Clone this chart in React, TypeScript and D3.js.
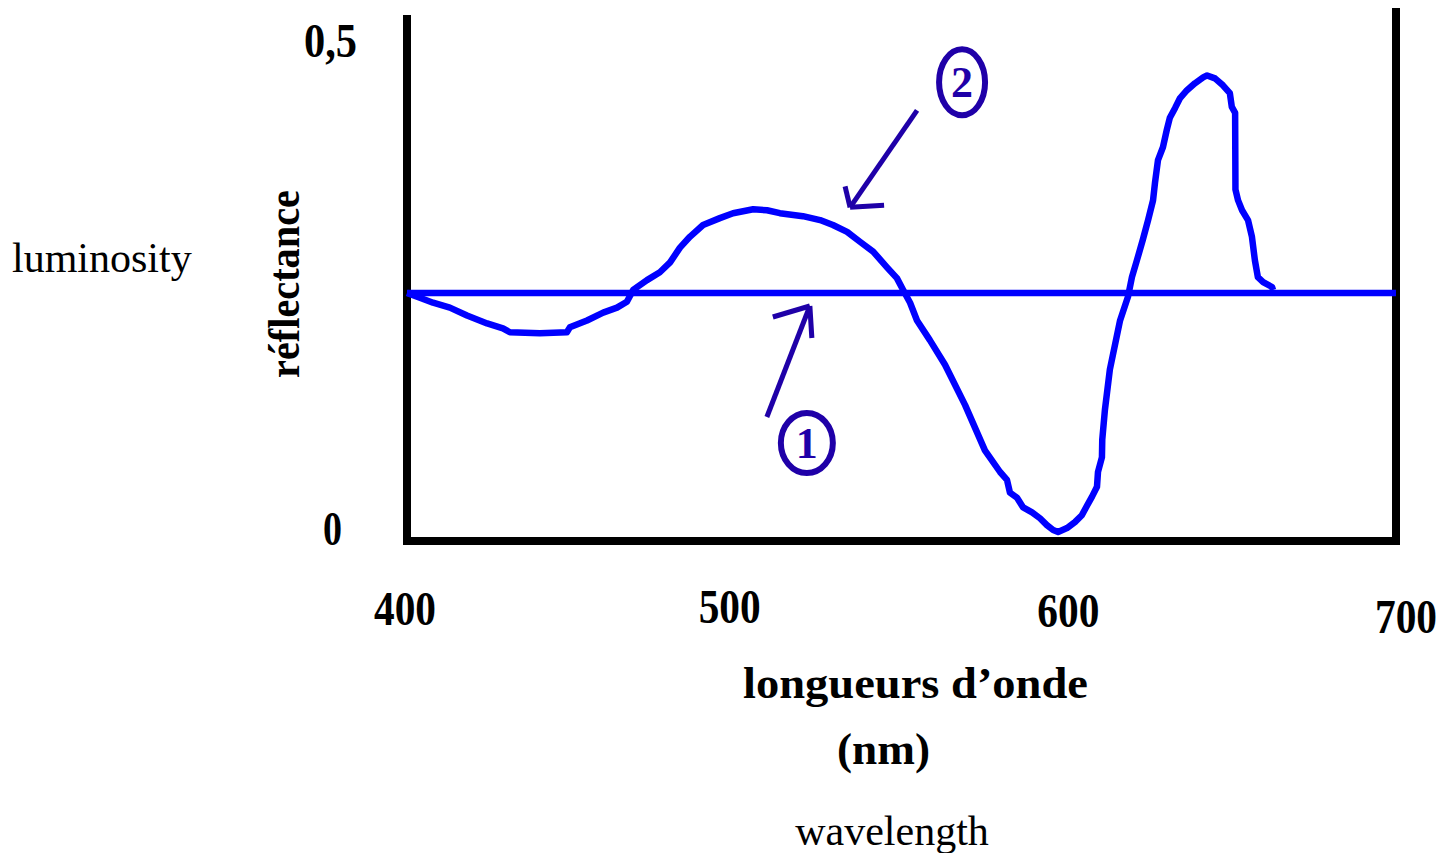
import React from "react";
import * as d3 from "d3";

// Curve 1: flat reflectance line
const flatWavelengths: number[] = [400, 700];
const flatValues: number[] = [0.244, 0.244];

// Curve 2: reflectance spectrum
const curveWavelengths: number[] = [
  400, 403.9, 407.9, 413.0, 418.2, 424.3, 429.1, 431.2, 440.3, 448.5, 449.4, 454.6, 459.5, 463.7,
  466.7, 468.6, 472.8, 476.7, 479.8, 482.8, 485.8, 489.8, 494.9, 498.9, 505.0, 509.2, 513.1,
  520.1, 525.3, 529.2, 533.5, 537.4, 541.4, 545.6, 548.6, 550.5, 552.6, 554.7, 558.6, 563.2,
  569.3, 575.3, 579.9, 582.0, 582.9, 585.0, 586.9, 589.6, 592.0, 594.1, 596.0, 597.5, 600.2,
  602.6, 604.7, 606.3, 607.8, 609.3, 609.6, 610.8, 610.9, 611.7, 613.2, 616.3, 618.7, 619.9,
  621.4, 623.2, 624.8, 626.3, 626.9, 627.8, 629.3, 630.5, 631.4, 633.0, 634.5, 636.6, 639.0,
  641.5, 642.7, 645.1, 647.5, 649.6, 650.2, 651.2, 651.3, 652.1, 653.3, 655.1, 656.3, 657.2,
  658.1, 659.7, 662.4, 662.7,
];
const curveValues: number[] = [
  0.244, 0.239, 0.234, 0.229, 0.221, 0.213, 0.208, 0.204, 0.203, 0.204, 0.209, 0.216, 0.224, 0.229,
  0.235, 0.247, 0.257, 0.265, 0.275, 0.29, 0.301, 0.313, 0.32, 0.325, 0.329, 0.328, 0.325,
  0.322, 0.318, 0.313, 0.306, 0.296, 0.286, 0.27, 0.259, 0.247, 0.234, 0.216, 0.196, 0.171,
  0.13, 0.084, 0.062, 0.054, 0.041, 0.036, 0.026, 0.021, 0.015, 0.008, 0.003, 0.001, 0.005,
  0.011, 0.018, 0.028, 0.037, 0.047, 0.062, 0.077, 0.095, 0.125, 0.166, 0.216, 0.24, 0.26,
  0.277, 0.298, 0.318, 0.338, 0.356, 0.379, 0.392, 0.41, 0.422, 0.432, 0.442, 0.45, 0.457,
  0.463, 0.465, 0.462, 0.455, 0.447, 0.433, 0.427, 0.349, 0.338, 0.328, 0.318, 0.301, 0.277,
  0.26, 0.255, 0.25, 0.247,
];

const xTickValues: number[] = [400, 500, 600, 700];
const xTickLabels: string[] = ["400", "500", "600", "700"];
const yTickValues: number[] = [0, 0.5];
const yTickLabels: string[] = ["0", "0,5"];

// Annotation anchors (wavelength, reflectance)
const annotationLabels: string[] = ["1", "2"];
const annotationWavelengths: number[] = [522.2, 534.4];
const annotationValues: number[] = [0.2307, 0.331];

const W = 1447;
const H = 853;

export default function App() {
  const x = d3.scaleLinear().domain([400, 700]).range([407, 1396]);
  const y = d3.scaleLinear().domain([0, 0.5]).range([533, 41]);

  const line = d3
    .line<[number, number]>()
    .x((d) => x(d[0]))
    .y((d) => y(d[1]))
    .curve(d3.curveLinear);

  const flatData: [number, number][] = flatWavelengths.map((w, i) => [w, flatValues[i]]);
  const curveData: [number, number][] = curveWavelengths.map((w, i) => [w, curveValues[i]]);

  const blue = "#0000ff";
  const annot = "#1f00a8";
  const boldFont = "'Liberation Serif', 'Times New Roman', serif";

  const frameTop = 15;
  const frameBottom = 541;
  const left = x(400);
  const right = x(700);

  const xNudge = [-2, -7, 2, 10];
  const xBase = [625, 623, 627, 633];

  // annotation geometry in pixel offsets from anchors
  const ann = [
    { tail: [-43, 111], b1: [-37, 11], b2: [2, 32], c: [-3, 137], rx: 26, ry: 30 },
    { tail: [67, -97], b1: [34, -2], b2: [-5, -21], c: [112, -125], rx: 23, ry: 33 },
  ];

  return (
    <svg
      width={W}
      height={H}
      style={{ position: "absolute", left: 0, top: 0, background: "#fff" }}
      xmlns="http://www.w3.org/2000/svg"
    >
      <rect x={0} y={0} width={W} height={H} fill="#fff" />

      {/* frame */}
      <line x1={left} x2={left} y1={frameTop} y2={frameBottom + 4} stroke="#000" strokeWidth={8} />
      <line x1={right} x2={right} y1={8} y2={frameBottom + 4} stroke="#000" strokeWidth={8} />
      <line x1={left - 4} x2={right + 4} y1={frameBottom} y2={frameBottom} stroke="#000" strokeWidth={8} />

      {/* curves */}
      <path d={line(flatData) || ""} fill="none" stroke={blue} strokeWidth={6.5} />
      <path
        d={line(curveData) || ""}
        fill="none"
        stroke={blue}
        strokeWidth={6.5}
        strokeLinejoin="round"
        strokeLinecap="butt"
      />

      {/* x tick labels */}
      {xTickValues.map((v, i) => (
        <text
          key={"xt" + v}
          x={x(v) + xNudge[i]}
          y={xBase[i]}
          textAnchor="middle"
          fontFamily={boldFont}
          fontWeight="bold"
          fontSize={48}
          textLength={62}
          lengthAdjust="spacingAndGlyphs"
          fill="#000"
        >
          {xTickLabels[i]}
        </text>
      ))}

      {/* y tick labels */}
      {yTickValues.map((v, i) => (
        <text
          key={"yt" + v}
          x={i === 0 ? 342 : 357}
          y={y(v) + (i === 0 ? 12 : 16)}
          textAnchor="end"
          fontFamily={boldFont}
          fontWeight="bold"
          fontSize={48}
          textLength={i === 0 ? 19 : 53}
          lengthAdjust="spacingAndGlyphs"
          fill="#000"
        >
          {yTickLabels[i]}
        </text>
      ))}

      {/* axis titles */}
      <text
        transform="translate(299,284) rotate(-90)"
        textAnchor="middle"
        fontFamily={boldFont}
        fontWeight="bold"
        fontSize={44}
        textLength={188}
        lengthAdjust="spacingAndGlyphs"
        fill="#000"
      >
        réflectance
      </text>
      <text
        x={743}
        y={698}
        fontFamily={boldFont}
        fontWeight="bold"
        fontSize={44}
        textLength={345}
        lengthAdjust="spacingAndGlyphs"
        fill="#000"
      >
        longueurs d’onde
      </text>
      <text
        x={837}
        y={764}
        fontFamily={boldFont}
        fontWeight="bold"
        fontSize={44}
        textLength={93}
        lengthAdjust="spacingAndGlyphs"
        fill="#000"
      >
        (nm)
      </text>

      <text x={12} y={272} fontFamily={boldFont} fontSize={42} fill="#000">
        luminosity
      </text>
      <text x={892} y={845} textAnchor="middle" fontFamily={boldFont} fontSize={42} fill="#000">
        wavelength
      </text>

      {/* annotations */}
      {annotationLabels.map((lab, i) => {
        const tx = x(annotationWavelengths[i]);
        const ty = y(annotationValues[i]);
        const a = ann[i];
        const cx = tx + a.c[0];
        const cy = ty + a.c[1];
        return (
          <g key={"ann" + lab}>
            <line x1={tx + a.tail[0]} y1={ty + a.tail[1]} x2={tx} y2={ty} stroke={annot} strokeWidth={5} />
            <line x1={tx + a.b1[0]} y1={ty + a.b1[1]} x2={tx} y2={ty} stroke={annot} strokeWidth={5} />
            <line x1={tx + a.b2[0]} y1={ty + a.b2[1]} x2={tx} y2={ty} stroke={annot} strokeWidth={5} />
            <ellipse cx={cx} cy={cy} rx={a.rx} ry={a.ry} fill="none" stroke={annot} strokeWidth={6} />
            <text
              x={cx}
              y={cy + 15}
              textAnchor="middle"
              fontFamily={boldFont}
              fontWeight="bold"
              fontSize={44}
              fill={annot}
            >
              {lab}
            </text>
          </g>
        );
      })}
    </svg>
  );
}
